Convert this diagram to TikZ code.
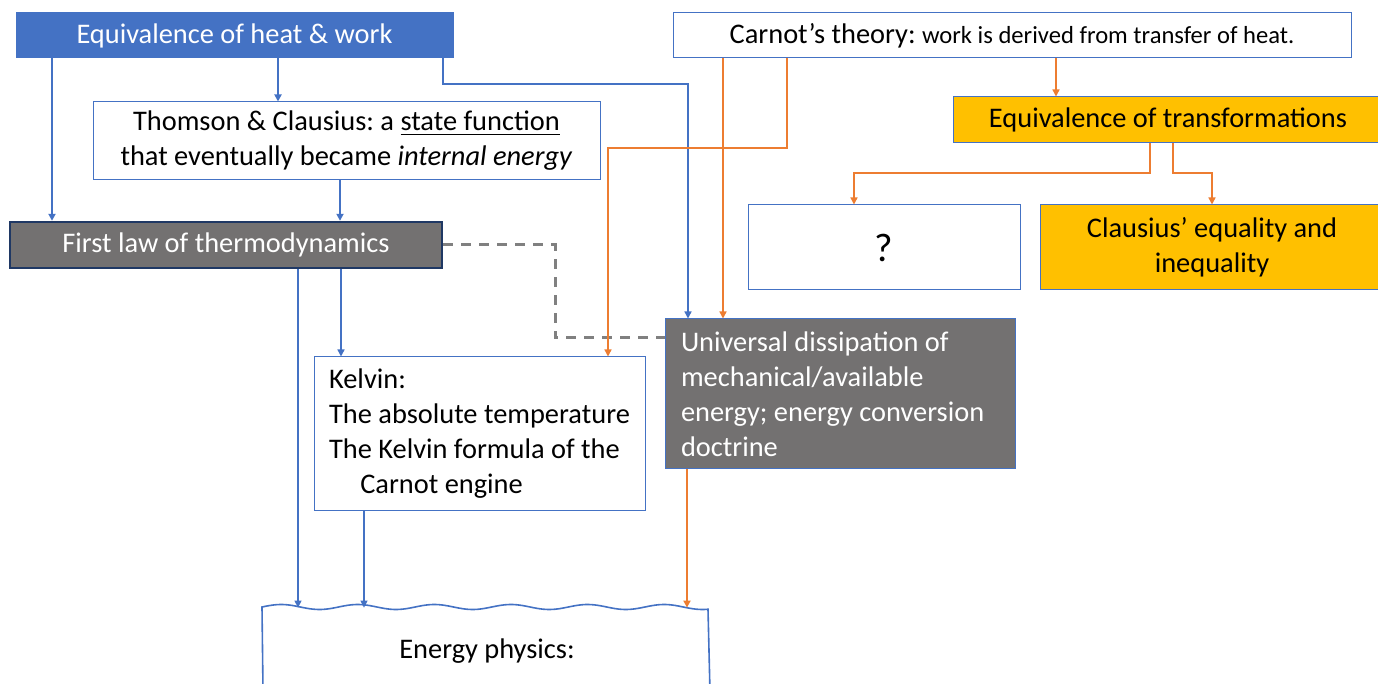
\documentclass[tikz,border=0pt]{standalone}
\usepackage{fontspec}
\setmainfont{Carlito}
\usetikzlibrary{arrows.meta, positioning}
\definecolor{msblue}{HTML}{4472C4}
\definecolor{msorange}{HTML}{ED7D31}
\definecolor{msgold}{HTML}{FFC000}
\definecolor{boxgray}{HTML}{737171}
\definecolor{navy}{HTML}{1F3864}
\frenchspacing
\begin{document}
\begin{tikzpicture}[x=0.5pt, y=-0.5pt,
  box/.style = {draw=msblue, line width=.5pt, inner sep=0pt,
    font=\fontsize{14.2}{17.5}\selectfont},
  bluebox/.style = {box, fill=msblue, text=white},
  graybox/.style = {box, fill=boxgray, text=white},
  goldbox/.style = {box, fill=msgold},
  blueline/.style = {draw=msblue, line width=.7pt, -{Triangle[length=3.5pt, width=3.5pt]}},
  thickblue/.style = {blueline, line width=1.4pt},
  orangeline/.style = {draw=msorange, line width=.7pt, -{Triangle[length=3.5pt, width=3.5pt]}},
  link/.style = {draw=gray, line width=1.5pt, dash pattern=on 5pt off 4pt},
  wavebox/.style = {draw=msblue, line width=.8pt}]
\clip (0,0) rectangle (1378,684);
% top row
\node[bluebox, minimum width=218.5pt, minimum height=22.5pt] (heat) at (234.5,35.5) {Equivalence of heat \& work};
\node[box, minimum width=339pt, minimum height=22.5pt] (carnot) at (1012,35.5)
  {Carnot’s theory: {\fontsize{12.3}{15}\selectfont work is derived from transfer of heat.}};
\node[box, align=center, minimum width=253.5pt, minimum height=39pt] (thomson) at (346.5,141)
  {Thomson \& Clausius: a \underline{state function}\\that eventually became \textit{internal energy}};
\node[goldbox, minimum width=215pt, minimum height=23pt] (eqtrans) at (1168,120) {Equivalence of transformations};
% middle
\node[graybox, draw=navy, line width=1.2pt, minimum width=216pt, minimum height=23pt] (first) at (226,245) {First law of thermodynamics};
\node[box, font=\fontsize{20}{24}\selectfont, minimum width=136pt, minimum height=42.5pt] (question) at (884,247.5) {?};
\node[goldbox, align=center, minimum width=172pt, minimum height=42.5pt] (clausius) at (1212,247.5)
  {Clausius’ equality and\\inequality};
\node[graybox, align=flush left, text width=159pt, inner xsep=8pt, minimum height=75pt] (universal) at (840,394)
  {Universal dissipation of\\mechanical/available\\energy; energy conversion\\doctrine};
\node[box, align=left, minimum width=165.5pt, minimum height=77pt] (kelvin) at (479.5,434)
  {Kelvin:\\The absolute temperature\\The Kelvin formula of the\\\hspace*{1.1em}Carnot engine};
% bottom
\node[font=\fontsize{14.2}{17.5}\selectfont, minimum width=223pt, minimum height=43pt] (energy) at (487,651) {Energy physics:};
\draw[wavebox] plot[domain=262:708, samples=150] (\x, {607-2.5*sin(4.7*(\x-262))})
  -- (710,692) -- plot[domain=709:263, samples=150] (\x, {690+4*sin(4.7*(\x-262))}) -- cycle;
% connectors
\draw[link] (first.east) -| (555,338) -- (universal.west |- 0,338);
\draw[thickblue] (heat.south -| 52,0) -- (first.north -| 52,0);
\draw[thickblue] (heat.south -| 278,0) -- (thomson.north -| 278,0);
\draw[thickblue] (thomson.south -| 340,0) -- (first.north -| 340,0);
\draw[blueline] (heat.south -| 443,0) -- (443,84) -| (universal.north -| 688,0);
\draw[blueline] (first.south -| 298,0) -- (energy.north -| 298,0);
\draw[blueline] (first.south -| 341,0) -- (kelvin.north -| 341,0);
\draw[blueline] (kelvin.south -| 364,0) -- (energy.north -| 364,0);
\draw[orangeline] (carnot.south -| 787,0) -- (787,148) -| (kelvin.north -| 608,0);
\draw[orangeline] (carnot.south -| 723,0) -- (universal.north -| 723,0);
\draw[orangeline] (carnot.south -| 1056,0) -- (eqtrans.north -| 1056,0);
\draw[orangeline] (eqtrans.south -| 1150,0) -- (1150,173) -| (question.north -| 854,0);
\draw[orangeline] (eqtrans.south -| 1173,0) -- (1173,173) -| (clausius.north -| 1212,0);
\draw[orangeline, line width=1pt] (universal.south -| 687,0) -- (energy.north -| 687,0);
\end{tikzpicture}
\end{document}
